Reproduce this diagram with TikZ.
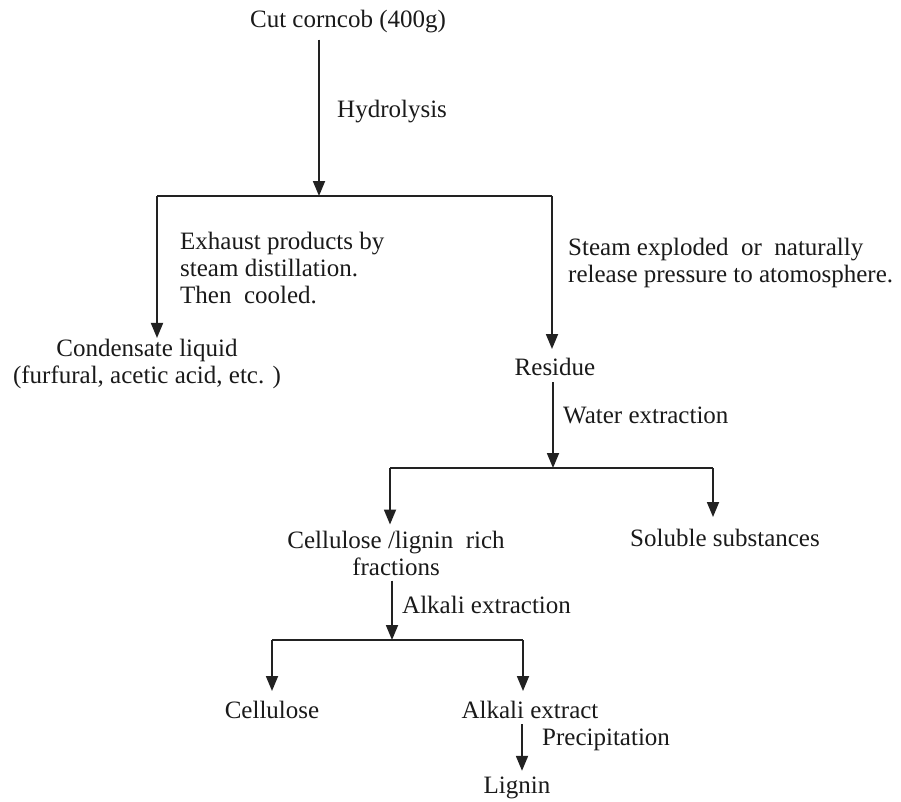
\documentclass[tikz,border=0pt]{standalone}
\usepackage{fontspec}
\setmainfont{Liberation Serif}
\usetikzlibrary{arrows.meta}
\definecolor{txt}{HTML}{1A1A1A}
\definecolor{lnc}{HTML}{222222}
\begin{document}
\begin{tikzpicture}[x=1pt,y=-1pt,
  font=\fontsize{25}{27}\selectfont,
  every node/.style={inner sep=0pt,text=txt},
  lbl/.style={anchor=west,align=left},
  wire/.style={line width=1.8pt,draw=lnc},
  arr/.style={wire,-{Triangle[length=15pt,width=12pt]}}]
\path[use as bounding box,fill=white] (0,0) rectangle (901,801);

% nodes
\node (top) at (348,22) {Cut corncob (400g)};
\node[lbl] (hyd) at (337,112) {Hydrolysis};
\node[lbl] (exh) at (180,268) {Exhaust products by\\steam distillation.\\Then\ \ cooled.};
\node[align=center] (cond) at (147,364) {Condensate liquid\\(furfural, acetic acid, etc. )};
\node[lbl] (steam) at (568,263) {Steam exploded\ \ or\ \ naturally\\release pressure to atomosphere.};
\node (res) at (555,367) {Residue};
\node[lbl] (water) at (563,415) {Water extraction};
\node[align=center] (cell) at (396,553) {Cellulose /lignin\ \ rich\\fractions};
\node[lbl] (sol) at (630,538) {Soluble substances};
\node[lbl] (alk) at (402,605) {Alkali extraction};
\node (cellu) at (272,710) {Cellulose};
\node (ae) at (530,710) {Alkali extract};
\node[lbl] (prec) at (542,740) {Precipitation};
\node (lig) at (517,788) {Lignin};

% junctions
\coordinate (j1) at (319,196);
\coordinate (j1l) at (157,196);
\coordinate (j1r) at (552,196);
\coordinate (j2) at (553,468);
\coordinate (j2l) at (390,468);
\coordinate (j2r) at (713,468);
\coordinate (j3) at (392,640);
\coordinate (j3l) at (272,640);
\coordinate (j3r) at (523,640);

% connectors
\draw[arr,shorten <=6pt] (top.south -| j1) -- (j1);
\draw[wire] (j1l) -- (j1r);
\draw[arr,shorten >=1pt] (j1l) -- (cond.north -| j1l);
\draw[arr,shorten >=9pt] (j1r) -- (res.north -| j1r);

\draw[arr,shorten <=6pt] (res.south -| j2) -- (j2);
\draw[wire] (j2l) -- (j2r);
\draw[arr,shorten >=6pt] (j2l) -- (cell.north -| j2l);
\draw[arr] (j2r) -- (j2r |- 0,517);

\draw[arr,shorten <=5pt] (cell.south -| j3) -- (j3);
\draw[wire] (j3l) -- (j3r);
\draw[arr,shorten >=10pt] (j3l) -- (cellu.north -| j3l);
\draw[arr,shorten >=10pt] (j3r) -- (ae.north -| j3r);
\draw[arr,shorten <=5pt,shorten >=6pt] (ae.south -| 522,0) -- (lig.north -| 522,0);
\end{tikzpicture}
\end{document}
